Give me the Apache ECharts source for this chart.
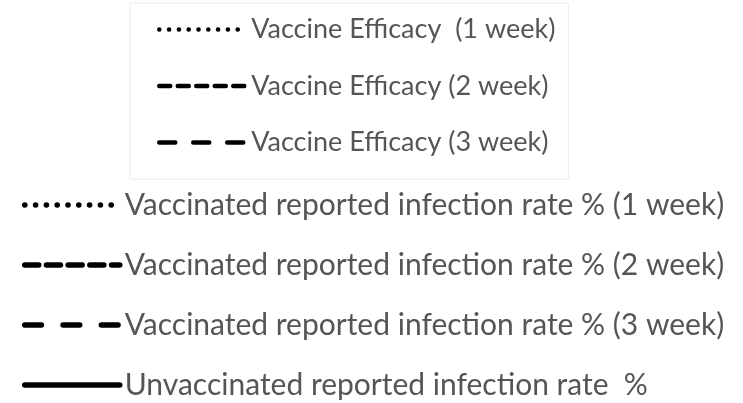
<!DOCTYPE html>
<html><head><meta charset="utf-8">
<script src="https://cdn.jsdelivr.net/npm/echarts@6/dist/echarts.min.js"></script>
<style>html,body{margin:0;padding:0;background:#fff}#c{width:743px;height:403px}</style>
</head><body><div id="c"></div>
<script>
// Legend entries (the reference image shows only the legends)
const efficacyNames = [
  "Vaccine Efficacy  (1 week)",
  "Vaccine Efficacy (2 week)",
  "Vaccine Efficacy (3 week)"
];
const rateNames = [
  "Vaccinated reported infection rate % (1 week)",
  "Vaccinated reported infection rate % (2 week)",
  "Vaccinated reported infection rate % (3 week)",
  "Unvaccinated reported infection rate  %"
];
const categories = [];
const emptyValues = [];

const dash1 = [[0.1, 9.7], [11, 7.5], [16, 18]];
const dash2 = [[0.1, 10.7], [14, 7.7], [16.7, 21.6], 'solid'];

const series = [];
efficacyNames.forEach((n, i) => series.push({
  name: n, type: 'line', data: emptyValues, symbol: 'none',
  lineStyle: { color: '#000', width: 4, type: dash1[i], cap: 'round' },
  itemStyle: { color: '#000' }
}));
rateNames.forEach((n, i) => series.push({
  name: n, type: 'line', data: emptyValues, symbol: 'none',
  lineStyle: { color: '#000', width: 5, type: dash2[i], cap: 'round' },
  itemStyle: { color: '#000' }
}));

const chart = echarts.init(document.getElementById('c'), null, { renderer: 'canvas' });
chart.setOption({
  backgroundColor: '#fff',
  animation: false,
  grid: { show: false, left: 0, right: 0, top: 0, bottom: 0 },
  xAxis: { type: 'category', data: categories, show: false },
  yAxis: { type: 'value', show: false },
  legend: [
    {
      data: efficacyNames, orient: 'vertical', left: 130, top: 3,
      padding: [13, 13, 23, 27],
      borderColor: '#ececec', borderWidth: 1,
      itemWidth: 87, itemHeight: 14, itemGap: 29.5,
      selectedMode: false,
      itemStyle: { opacity: 0 },
      lineStyle: { width: 4.5, cap: 'round' },
      textStyle: { fontFamily: 'Lato', fontSize: 27, lineHeight: 24, color: '#555' }
    },
    {
      data: rateNames, orient: 'vertical', left: 22, top: 190,
      padding: 0,
      itemWidth: 95, itemHeight: 14, itemGap: 30,
      selectedMode: false,
      itemStyle: { opacity: 0 },
      lineStyle: { width: 5.5, cap: 'round' },
      textStyle: { fontFamily: 'Lato', fontSize: 30, lineHeight: 30, color: '#555' }
    }
  ],
  series: series
});
</script></body></html>
